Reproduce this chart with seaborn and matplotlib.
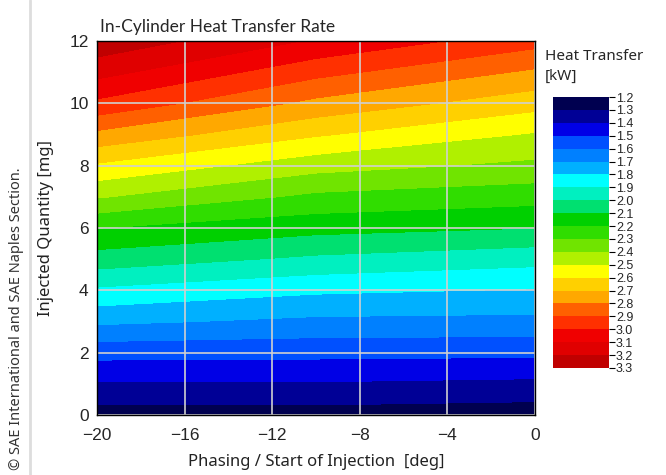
import numpy as np
import pandas as pd
import matplotlib
matplotlib.use("Agg")
import matplotlib.pyplot as plt
from matplotlib.lines import Line2D
import seaborn as sns

# ---- data ----
soi_deg = [-20, -10, 0]
qty_mg = [0, 1, 2, 3, 4, 5, 6, 7, 8, 9, 10, 11, 12]
heat_at_m20 = [1.257, 1.391, 1.534, 1.719, 1.882, 2.055, 2.202, 2.408, 2.585, 2.774, 2.978, 3.134, 3.27]
heat_at_m10 = [1.257, 1.391, 1.528, 1.678, 1.817, 1.980, 2.133, 2.277, 2.438, 2.611, 2.773, 2.931, 3.088]
heat_at_0 = [1.243, 1.376, 1.522, 1.672, 1.793, 1.934, 2.100, 2.238, 2.376, 2.490, 2.639, 2.783, 2.938]
levels = [1.2, 1.3, 1.4, 1.5, 1.6, 1.7, 1.8, 1.9, 2.0, 2.1, 2.2, 2.3, 2.4,
          2.5, 2.6, 2.7, 2.8, 2.9, 3.0, 3.1, 3.2, 3.3]
band_colors = ["#000050", "#000096", "#0000e6", "#0050ff", "#0080ff", "#00b0ff",
               "#00ffff", "#00f0c0", "#00e070", "#00d000", "#30dd00", "#70e400",
               "#b0f000", "#ffff00", "#ffd000", "#ffa800", "#ff6000", "#ff3000",
               "#f00000", "#e00000", "#c00000"]
x_ticks = [-20, -16, -12, -8, -4, 0]
y_ticks = [0, 2, 4, 6, 8, 10, 12]

df = pd.DataFrame({-20: heat_at_m20, -10: heat_at_m10, 0: heat_at_0}, index=qty_mg)

sns.set_style("white")
plt.rcParams['font.family'] = ['Liberation Sans', 'DejaVu Sans']

fig = plt.figure(figsize=(6.66, 4.75), dpi=100)
ax = fig.add_axes([97/666, 1-415/475, 438/666, 374/475])

X, Y = np.meshgrid(np.array(soi_deg, float), np.array(qty_mg, float))
palette = sns.color_palette(band_colors)
cs = ax.contourf(X, Y, df[soi_deg].values, levels=levels, colors=palette)

ax.set_xlim(-20, 0)
ax.set_ylim(0, 12)
ax.set_xticks(x_ticks)
ax.set_yticks(y_ticks)
ax.set_axisbelow(False)
ax.grid(True, color="#d0d0d0", linewidth=1.2)
ax.tick_params(axis="both", labelsize=12.5, length=3, color="black",
               direction="out")
ax.tick_params(axis="x", pad=6)
ax.tick_params(axis="y", pad=3)
for s in ax.spines.values():
    s.set_color("black")
    s.set_linewidth(1.0)
    s.set_zorder(5)

ax.set_xlabel("Phasing / Start of Injection  [deg]", fontsize=12,
              family=["Noto Sans", "DejaVu Sans"], labelpad=8, color="#222222")
ax.set_ylabel("Injected Quantity [mg]", fontsize=12,
              family=["Noto Sans", "DejaVu Sans"], labelpad=11, color="#222222")
fig.text(100/666, 1-32/475, "In-Cylinder Heat Transfer Rate", fontsize=12.5,
         family=["Lato", "DejaVu Sans"], ha="left", va="baseline")

# colorbar
cax = fig.add_axes([553/666, 1-368/475, 56/666, 271/475])
cb = fig.colorbar(cs, cax=cax, ticks=levels)
cax.invert_yaxis()
cb.outline.set_visible(False)
cax.set_yticklabels([f"{v:.1f}" for v in levels])
cax.tick_params(axis="y", labelsize=9, length=4, pad=1, color="black")
fig.text(545/666, 1-60/475, "Heat Transfer", fontsize=11,
         family=["Noto Sans", "DejaVu Sans"], ha="left", va="baseline")
fig.text(545/666, 1-80/475, "[kW]", fontsize=11,
         family=["Noto Sans", "DejaVu Sans"], ha="left", va="baseline")

# side note and strip
fig.text(17/666, 1-470/475, "\u00a9 SAE International and SAE Naples Section.",
         rotation=90, fontsize=10.5, family=["Noto Sans", "DejaVu Sans"],
         ha="center", va="bottom", color="#333333")
fig.add_artist(Line2D([30/666, 30/666], [0, 1], color="#dddddd", linewidth=2))

fig.savefig("out.png", dpi=100)
